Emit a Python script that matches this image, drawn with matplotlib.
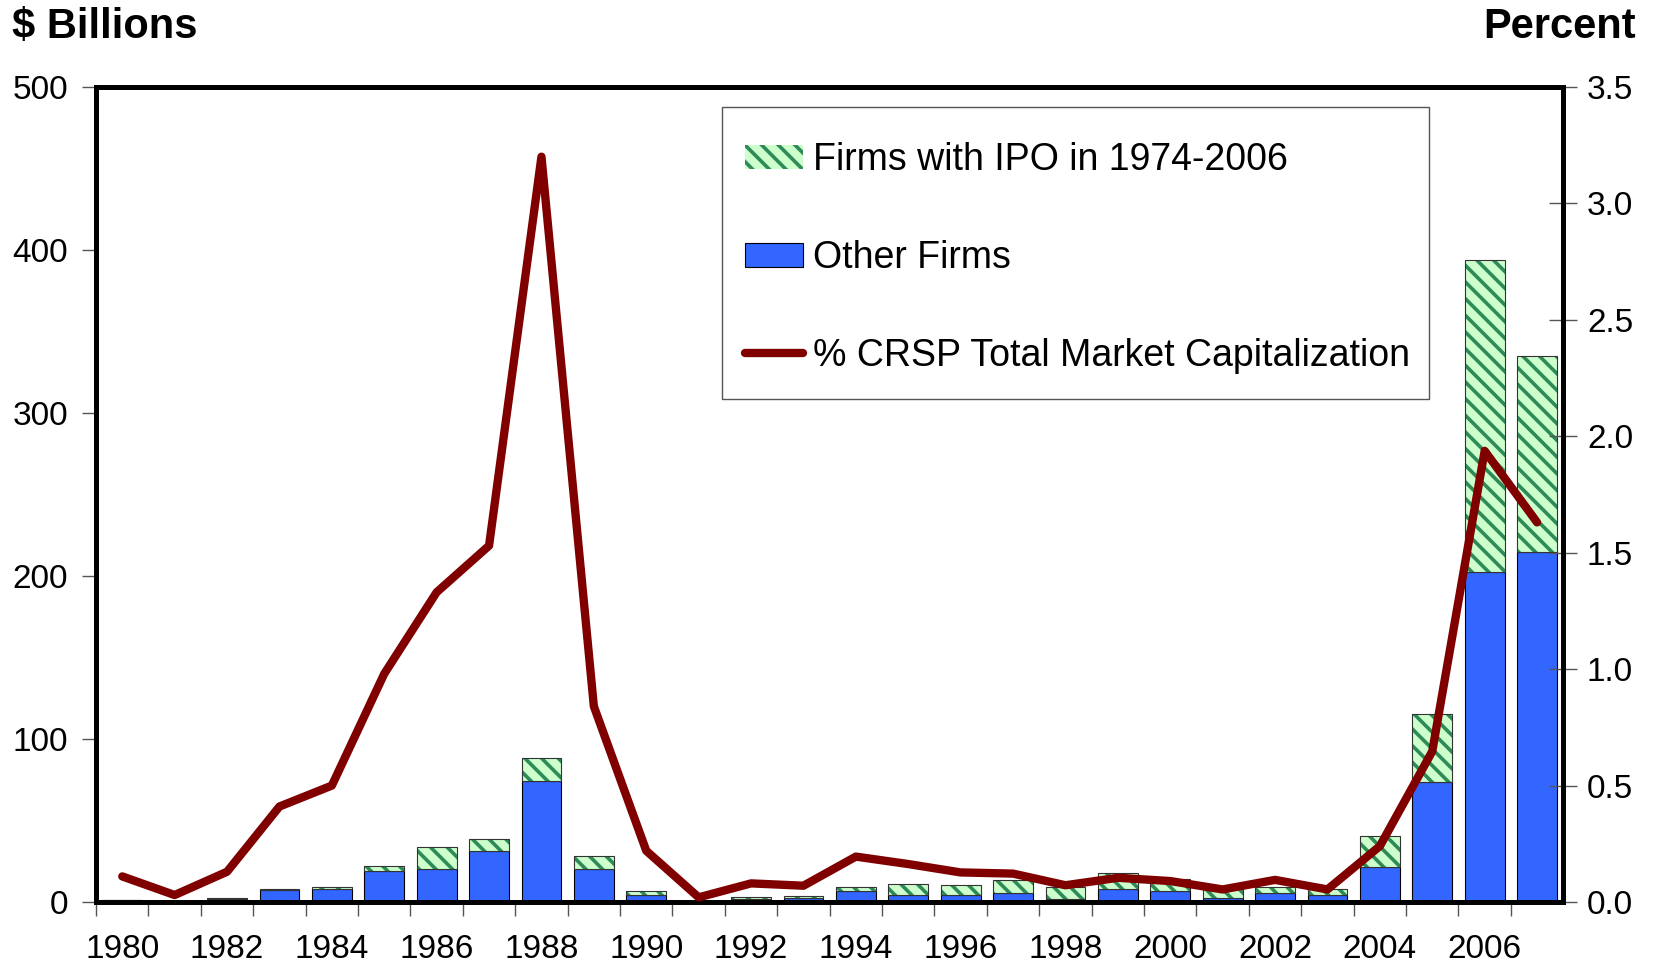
import numpy as np
import matplotlib
matplotlib.use('Agg')
import matplotlib.pyplot as plt
from matplotlib.patches import Patch, Rectangle
from matplotlib.lines import Line2D

plt.rcParams['font.family'] = ['Liberation Sans', 'DejaVu Sans']
plt.rcParams['hatch.linewidth'] = 2.6

YEARS = list(range(1980, 2008))
# $ billions
OTHER = [1.2, 0.3, 2.0, 7.5, 7.8, 19.2, 20.5, 31.0, 74.5, 20.0,
         4.0, 0.4, 2.0, 2.4, 6.5, 4.5, 4.5, 5.7, 1.6, 7.8,
         6.6, 2.3, 5.7, 4.1, 21.5, 73.6, 202.5, 214.7]
IPO = [0.3, 0.1, 0.3, 0.3, 1.2, 2.8, 13.0, 7.5, 14.0, 8.0,
       3.0, 0.1, 1.0, 1.0, 3.0, 6.5, 5.8, 7.6, 7.6, 9.8,
       7.5, 6.0, 3.7, 3.7, 19.0, 42.0, 191.5, 120.5]
# percent of CRSP total market cap
PCT = [0.11, 0.03, 0.13, 0.41, 0.50, 0.98, 1.33, 1.53, 3.20, 0.84,
       0.22, 0.02, 0.08, 0.07, 0.195, 0.163, 0.127, 0.122, 0.072, 0.104,
       0.09, 0.054, 0.095, 0.054, 0.24, 0.647, 1.937, 1.63]

BLUE = '#3366FF'
GREEN_FACE = '#CCFFCC'
GREEN_HATCH = '#2E8B57'
RED = '#800000'
HATCH = '\\\\'

fig = plt.figure(figsize=(16.56, 9.67), dpi=100)
ax = fig.add_axes([0.058, 0.0672, 0.886, 0.843])
x = np.arange(len(YEARS))
w = 0.76
other = np.array(OTHER)
ipo = np.array(IPO)

ax.bar(x, other, width=w, color=BLUE, edgecolor='black', linewidth=0.8, zorder=2)
ax.bar(x, ipo, width=w, bottom=other, color=GREEN_FACE, edgecolor=GREEN_HATCH,
       hatch=HATCH, linewidth=0, zorder=2)
ax.bar(x, ipo, width=w, bottom=other, fill=False, edgecolor='#333333',
       linewidth=0.8, zorder=3)

ax.set_xlim(-0.5, len(YEARS) - 0.5)
ax.set_ylim(0, 500)
ax.set_yticks(range(0, 501, 100))
ax.set_xticks(x - 0.5, [''] * len(x))
ax.set_xticks(x[::2], [str(y) for y in YEARS[::2]], minor=True)
ax.tick_params(axis='x', which='major', direction='out', length=10, width=1, color='#555555')
ax.tick_params(axis='x', which='minor', length=0, pad=23, labelsize=24)
ax.tick_params(axis='y', direction='out', length=10, width=1, color='#555555', pad=10, labelsize=24)
for s in ax.spines.values():
    s.set_linewidth(3.5)

ax2 = ax.twinx()
ax2.plot(x, PCT, color=RED, lw=6, solid_joinstyle='round', solid_capstyle='round', zorder=5)
ax2.set_ylim(0, 3.5)
ax2.set_yticks(np.arange(0, 3.51, 0.5))
ax2.set_yticklabels([f'{v:.1f}' for v in np.arange(0, 3.51, 0.5)])
ax2.tick_params(axis='y', direction='inout', length=20, width=1, color='#555555', pad=7, labelsize=24)
for s in ax2.spines.values():
    s.set_linewidth(3.5)

# legend box drawn separately so its padding can match the original
ax2.add_patch(Rectangle((0.4269, 0.6168), 0.4816, 0.3588, transform=ax2.transAxes,
                        facecolor='white', edgecolor='#555555', linewidth=1, zorder=9))
handles = [Patch(facecolor=GREEN_FACE, edgecolor=GREEN_HATCH, hatch=HATCH, linewidth=0),
           Patch(facecolor=BLUE, edgecolor='black', linewidth=0.8),
           Line2D([], [], color=RED, lw=6, solid_capstyle='round')]
labels = ['Firms with IPO in 1974-2006', 'Other Firms', '% CRSP Total Market Capitalization']
leg = ax2.legend(handles, labels, loc='upper left', bbox_to_anchor=(0.4243, 0.9646),
                 borderaxespad=0, fontsize=27, labelspacing=1.65, handlelength=1.55,
                 handleheight=0.6, handletextpad=0.27, borderpad=0.7, frameon=False)
leg.set_zorder(10)

fig.text(0.007, 0.972, '$ Billions', fontsize=30, fontweight='bold', ha='left', va='center')
fig.text(0.988, 0.972, 'Percent', fontsize=30, fontweight='bold', ha='right', va='center')

fig.savefig('out.png', dpi=100)
